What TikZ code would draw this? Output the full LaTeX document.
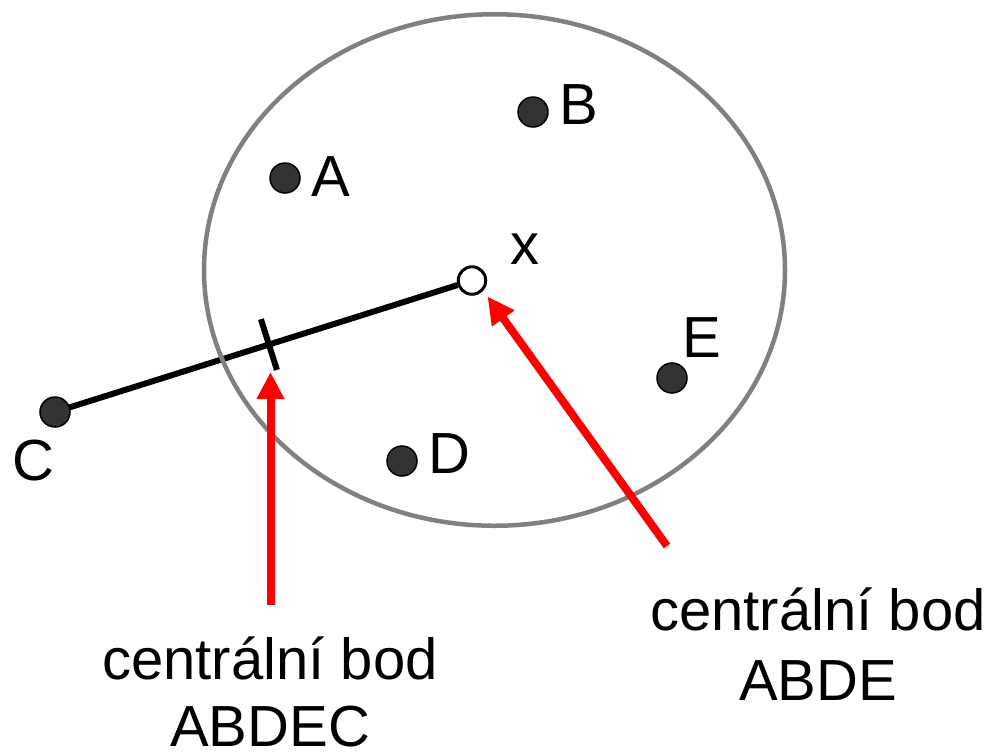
\documentclass[tikz,border=0pt]{standalone}
\usepackage{fontspec}
\setmainfont{Liberation Sans}
\usetikzlibrary{arrows.meta,calc}
\pgfdeclarelayer{bg}
\pgfsetlayers{bg,main}
\definecolor{dotgray}{HTML}{333333}
\definecolor{ringgray}{HTML}{808080}
\begin{document}
\begin{tikzpicture}[x=1pt,y=-1pt,
  dot/.style={circle,fill=dotgray,draw=black,line width=1.5pt,minimum size=30pt,inner sep=0pt},
  hollow/.style={circle,fill=white,draw=black,line width=3pt,minimum size=27.5pt,inner sep=0pt},
  lbl/.style={anchor=base west,inner sep=0pt,font=\fontsize{58}{69}\selectfont},
  caption/.style={anchor=base,inner sep=0pt,font=\fontsize{58}{69}\selectfont},
  redarrow/.style={draw=red,line width=8pt,-{Triangle[length=27pt,width=26pt]}},
  segment/.style={draw=black,line width=6pt},
  ring/.style={draw=ringgray,line width=4.5pt}]
\useasboundingbox (0,0) rectangle (993,753);
\draw[ring] (494.5,270) ellipse [x radius=290.5, y radius=255.75];
% points
\node[dot] (A) at (285,178) {};
\node[dot] (B) at (533,112) {};
\node[dot] (C) at (55,412) {};
\node[dot] (D) at (402,461) {};
\node[dot] (E) at (672,378) {};
\node[hollow] (X) at (472,280.5) {};
% letters
\node[lbl] (lA) at (311,196) {A};
\node[lbl] (lB) at (559,124) {B};
\node[lbl] (lC) at (12,480) {C};
\node[lbl] (lD) at (428.5,473) {D};
\node[lbl] (lE) at (682.5,357) {E};
\node[lbl] (lX) at (510,264) {x};
% segment C -- x with tick
\begin{pgfonlayer}{bg}
\draw[segment] (C.center) -- (X);
\end{pgfonlayer}
\coordinate (tk) at ($(C.center)!0.513!(X.center)$);
\draw[segment] ($(tk)!26.6pt!90:(X.center)$) -- ($(tk)!26.6pt!-90:(X.center)$);
% captions
\node[caption] (capL1) at (270,679) {centrální bod};
\node[caption] (capL2) at (270,746) {ABDEC};
\node[caption] (capR1) at (818,630) {centrální bod};
\node[caption] (capR2) at (818,700) {ABDE};
% red arrows
\coordinate (a1s) at (270.5,605);
\coordinate (a1e) at (270.5,372);
\draw[redarrow] (a1s) -- (a1e);
\coordinate (a2s) at (667,546);
\coordinate (a2e) at (487.5,296.5);
\draw[redarrow] (a2s) -- (a2e);
\end{tikzpicture}
\end{document}
